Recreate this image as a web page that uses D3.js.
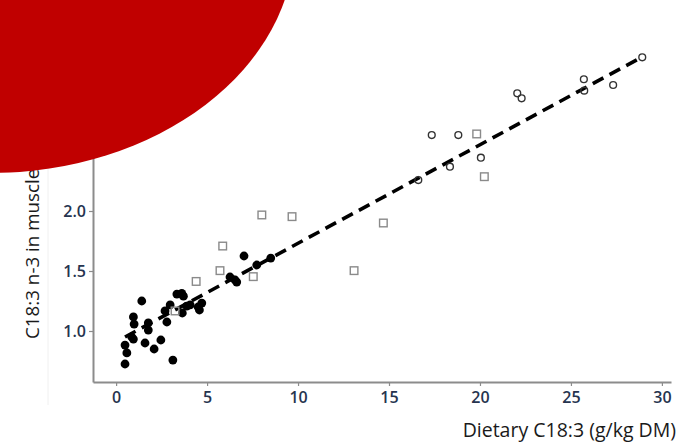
<!DOCTYPE html>
<html>
<head>
<meta charset="utf-8">
<script src="https://cdn.jsdelivr.net/npm/d3@7"></script>
<style>
  html, body { margin: 0; padding: 0; background: #fff; }
  svg { display: block; }
</style>
</head>
<body>
<div id="chart"></div>
<script>
// data: [dietary C18:3 g/kg DM, muscle C18:3 n-3]
const filledPts = [
  [0.49, 0.725], [0.59, 0.817], [0.49, 0.883], [0.86, 0.95], [0.95, 0.933],
  [0.95, 1.117], [0.99, 1.058], [1.41, 1.25], [1.59, 0.90], [1.77, 1.067],
  [1.77, 1.008], [2.09, 0.85], [2.46, 0.925], [3.12, 0.758], [2.69, 1.167],
  [2.79, 1.075], [2.97, 1.217], [3.34, 1.308], [3.61, 1.314], [3.70, 1.29],
  [3.64, 1.15], [3.88, 1.208], [4.07, 1.217], [4.58, 1.175], [4.71, 1.233],
  [4.51, 1.20], [6.26, 1.45], [6.54, 1.425], [6.63, 1.408], [7.03, 1.625],
  [7.73, 1.55], [8.50, 1.608]
];
const squarePts = [
  [3.24, 1.167], [4.40, 1.413], [5.71, 1.503], [5.86, 1.708], [7.54, 1.453],
  [8.01, 1.967], [9.67, 1.953], [13.08, 1.503], [14.69, 1.90], [19.82, 2.642],
  [20.24, 2.286]
];
const openPts = [
  [16.61, 2.258], [17.35, 2.633], [18.35, 2.369], [18.81, 2.633], [20.05, 2.444],
  [22.05, 2.981], [22.29, 2.939], [25.71, 3.098], [25.73, 3.003], [27.32, 3.05],
  [28.92, 3.281]
];
const fitLine = { intercept: 0.91, slope: 0.0821, from: 0.49, to: 28.9 };
const xTicks = [0, 5, 10, 15, 20, 25, 30];
const yTicks = [1.0, 1.5, 2.0, 2.5, 3.0];
const xTitle = 'Dietary C18:3 (g/kg DM)';
const yTitle = 'C18:3 n-3 in muscle (g/100 g)';

const width = 679, height = 444;
const tickFont = '"Open Sans", sans-serif';

const svg = d3.select('#chart').append('svg')
  .attr('width', width)
  .attr('height', height);

const x = d3.scaleLinear().domain([-1.27, 30.5]).range([93, 671]);
const y = d3.scaleLinear().domain([0.575, 3.5]).range([382, 31]);

// faint slide guide line
svg.append('line')
  .attr('x1', 48).attr('x2', 48).attr('y1', 120).attr('y2', 405)
  .style('stroke', '#f0f0f0').style('stroke-width', 1);

// axes
const xAxis = svg.append('g')
  .attr('transform', `translate(0,${y.range()[0]})`)
  .call(d3.axisBottom(x).tickValues(xTicks).tickSize(4).tickSizeOuter(0).tickPadding(6));
const yAxis = svg.append('g')
  .attr('transform', `translate(${x.range()[0]},0)`)
  .call(d3.axisLeft(y).tickValues(yTicks).tickFormat(d3.format('.1f')).tickSize(4).tickSizeOuter(0).tickPadding(3));

[xAxis, yAxis].forEach(ax => {
  ax.select('.domain').style('stroke', '#8c8c8c').style('stroke-width', 2);
  ax.selectAll('.tick line').style('stroke', '#8c8c8c').style('stroke-width', 1.2);
  ax.selectAll('.tick text')
    .style('font-family', tickFont)
    .style('font-size', '16px')
    .style('font-weight', 600)
    .style('fill', '#26344f');
});
yAxis.selectAll('.tick text').attr('dy', '0.36em');

// regression line
svg.append('line')
  .attr('x1', x(fitLine.from))
  .attr('y1', y(fitLine.intercept + fitLine.slope * fitLine.from))
  .attr('x2', x(fitLine.to))
  .attr('y2', y(fitLine.intercept + fitLine.slope * fitLine.to))
  .style('stroke', '#000')
  .style('stroke-width', 3.6)
  .style('stroke-dasharray', '12,7');

// filled circles
svg.append('g').selectAll('circle')
  .data(filledPts)
  .enter().append('circle')
  .attr('cx', d => x(d[0]))
  .attr('cy', d => y(d[1]))
  .attr('r', 4.4)
  .style('fill', '#000');

// open squares
svg.append('g').selectAll('rect')
  .data(squarePts)
  .enter().append('rect')
  .attr('x', d => x(d[0]) - 3.8)
  .attr('y', d => y(d[1]) - 3.8)
  .attr('width', 7.6)
  .attr('height', 7.6)
  .style('fill', 'none')
  .style('stroke', '#8a8a8a')
  .style('stroke-width', 1.4);

// open circles
svg.append('g').selectAll('circle')
  .data(openPts)
  .enter().append('circle')
  .attr('cx', d => x(d[0]))
  .attr('cy', d => y(d[1]))
  .attr('r', 3.4)
  .style('fill', 'none')
  .style('stroke', '#333')
  .style('stroke-width', 1.4);

// axis titles
svg.append('text')
  .attr('x', 676)
  .attr('y', 437)
  .attr('text-anchor', 'end')
  .style('font-family', tickFont)
  .style('font-size', '19.5px')
  .style('fill', '#1a1a1a')
  .text(xTitle);

svg.append('text')
  .attr('transform', 'translate(39,339) rotate(-90)')
  .attr('text-anchor', 'start')
  .style('font-family', tickFont)
  .style('font-size', '18.8px')
  .style('fill', '#1a1a1a')
  .text(yTitle);

// red decorative shape over the top-left corner
svg.append('ellipse')
  .attr('cx', -10)
  .attr('cy', -60)
  .attr('rx', 305)
  .attr('ry', 233)
  .style('fill', '#c00000');
</script>
</body>
</html>
